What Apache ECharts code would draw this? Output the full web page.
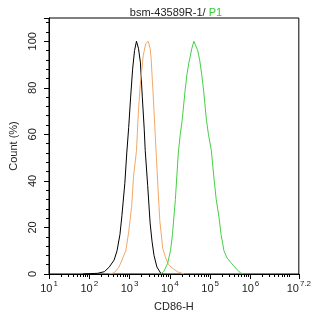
<!DOCTYPE html>
<html>
<head>
<meta charset="utf-8">
<script src="https://cdn.jsdelivr.net/npm/echarts@6/dist/echarts.min.js"></script>
<style>
  html, body { margin: 0; padding: 0; background: #fff; }
  #chart { width: 314px; height: 317px; }
</style>
</head>
<body>
<div id="chart"></div>
<script>
// x values are log10 of CD86-H intensity, y values are Count (%)
var blackX = [1.844, 2.206, 2.375, 2.496, 2.616, 2.689, 2.761, 2.809, 2.882, 2.930, 2.978, 3.026, 3.075, 3.123, 3.171, 3.220, 3.268, 3.316, 3.364, 3.388, 3.449, 3.509, 3.557, 3.606, 3.678, 3.774, 3.823];
var blackY = [0, 0.3, 1, 3, 6, 10, 17, 25, 39, 52, 63, 76, 88, 96, 100, 97, 91, 76, 62, 53, 38, 22, 14, 8, 3, 0.3, 0];

var orangeX = [2.496, 2.616, 2.737, 2.809, 2.906, 2.978, 3.051, 3.099, 3.171, 3.220, 3.268, 3.340, 3.400, 3.461, 3.509, 3.533, 3.582, 3.630, 3.666, 3.702, 3.750, 3.823, 3.895, 3.967, 4.064, 4.185, 4.353];
var orangeY = [0, 0.5, 3, 6, 10, 18, 29, 42, 53, 70, 82, 94, 99, 100, 97, 93, 78, 62, 50, 38, 23, 11, 7, 4, 2.5, 1, 0];

var greenX = [3.774, 3.847, 3.943, 4.016, 4.064, 4.136, 4.209, 4.257, 4.305, 4.378, 4.426, 4.474, 4.498, 4.546, 4.595, 4.643, 4.691, 4.739, 4.788, 4.836, 4.908, 4.957, 5.029, 5.101, 5.150, 5.222, 5.270, 5.342, 5.415, 5.511, 5.584, 5.680, 5.753, 5.825];
var greenY = [0, 1, 4.5, 10, 17, 32, 52, 60, 66, 79, 86, 91, 93, 97, 100, 98, 96, 92, 86, 79, 66, 60, 53, 40, 32, 24, 17, 10, 7, 5, 3.5, 1.6, 0.5, 0];

var xTickValues = [1, 2, 3, 4, 5, 6, 7.2];
var xTickLabels = ['1', '2', '3', '4', '5', '6', '7.2'];

function zip(xs, ys) {
  return xs.map(function (x, i) { return [x, ys[i]]; });
}

// minor log ticks (2..9 inside each decade)
var minorTicks = [];
for (var d = 1; d < 8; d++) {
  for (var k = 2; k <= 9; k++) {
    var v = d + Math.log10(k);
    if (v < 7.2) minorTicks.push(v);
  }
}

var font = 'Liberation Sans, Arial, sans-serif';
var chart = echarts.init(document.getElementById('chart'));
var option = {
  animation: false,
  title: {
    text: '{a|bsm-43589R-1/ }{g|P1}',
    left: 171,
    textAlign: 'center',
    top: 2,
    textStyle: {
      fontWeight: 'normal',
      rich: {
        a: { fontFamily: font, fontSize: 11, fontWeight: 'normal', color: '#222' },
        g: { fontFamily: font, fontSize: 11, fontWeight: 'normal', color: '#33cc33' }
      }
    }
  },
  grid: {
    left: 43, right: 14, top: 18, bottom: 43,
    show: true, borderColor: '#000', borderWidth: 1
  },
  xAxis: [{
    type: 'value',
    min: 1,
    max: 7.2,
    name: 'CD86-H',
    nameLocation: 'middle',
    nameGap: 27,
    nameTextStyle: { fontFamily: font, fontSize: 11, color: '#222' },
    axisLine: { lineStyle: { color: '#000', width: 1 } },
    axisTick: { customValues: xTickValues, length: 5, lineStyle: { color: '#000' } },
    splitLine: { show: false },
    axisLabel: {
      customValues: xTickValues,
      margin: 6,
      formatter: function (val) {
        var i = xTickValues.indexOf(val);
        var lbl = i >= 0 ? xTickLabels[i] : String(val);
        return '{b|10}{s|' + lbl + '}';
      },
      rich: {
        b: { fontFamily: font, fontSize: 11, color: '#222', verticalAlign: 'bottom' },
        s: { fontFamily: font, fontSize: 8, color: '#222', verticalAlign: 'top', padding: [0, 0, 6, 1] }
      }
    }
  }, {
    type: 'value',
    min: 1,
    max: 7.2,
    position: 'bottom',
    axisLine: { show: false },
    axisTick: { customValues: minorTicks, length: 3, lineStyle: { color: '#000' } },
    axisLabel: { show: false },
    splitLine: { show: false }
  }],
  yAxis: {
    type: 'value',
    min: 0,
    max: 110,
    interval: 20,
    name: 'Count (%)',
    nameLocation: 'middle',
    nameGap: 30,
    nameTextStyle: { fontFamily: font, fontSize: 11, color: '#222' },
    axisLine: { show: true, lineStyle: { color: '#000', width: 1 } },
    axisTick: { show: true, length: 5, lineStyle: { color: '#000' } },
    minorTick: { show: true, splitNumber: 5, length: 3, lineStyle: { color: '#000' } },
    splitLine: { show: false },
    axisLabel: {
      rotate: 90,
      margin: 11,
      showMaxLabel: false,
      fontFamily: font, fontSize: 11, color: '#222'
    }
  },
  series: [
    { type: 'line', data: zip(blackX, blackY), showSymbol: false, lineStyle: { color: '#000', width: 1 }, itemStyle: { color: '#000' } },
    { type: 'line', data: zip(orangeX, orangeY), showSymbol: false, lineStyle: { color: '#f2a766', width: 1 }, itemStyle: { color: '#f2a766' } },
    { type: 'line', data: zip(greenX, greenY), showSymbol: false, lineStyle: { color: '#44d044', width: 1 }, itemStyle: { color: '#44d044' } }
  ]
};
chart.setOption(option);
</script>
</body>
</html>
